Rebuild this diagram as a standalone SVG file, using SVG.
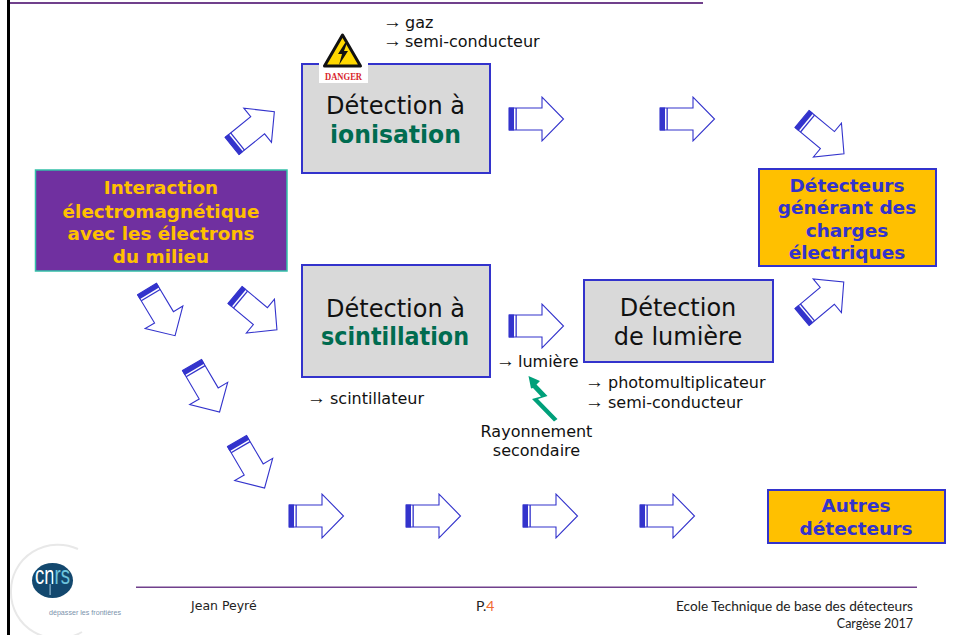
<svg xmlns="http://www.w3.org/2000/svg" width="957" height="635" viewBox="0 0 957 635">
<style>
text{font-family:"DejaVu Sans",Verdana,sans-serif}
.box{stroke:#3333CC;stroke-width:2}
.grey{fill:#D9D9D9}
.or{fill:#FFC000}
.big{font-size:24px;fill:#111;text-anchor:middle}
.bigb{font-size:24px;font-weight:bold;fill:#006C50;text-anchor:middle}
.t{font-size:16px;fill:#111}
.a{font-family:"Liberation Sans",sans-serif;font-size:19px}
.c{font-size:16px;fill:#111;text-anchor:middle}
.bl{font-size:18.5px;font-weight:bold;fill:#3333CC;text-anchor:middle}
.yl{font-size:18.4px;font-weight:bold;fill:#FFC000;text-anchor:middle}
.f{font-size:12.5px;fill:#222}
.l{font-family:Lato,"Liberation Sans",sans-serif;font-size:12.500px;fill:#222}
.arr{fill:#fff;stroke:#3333CC;stroke-width:1.1}
.bar{fill:#3333CC}
</style>
<defs>
<g id="arrow">
<polygon class="arr" points="0,-11 33,-11 33,-22 54.500,0 33,22 33,11 0,11"/>
<rect class="bar" x="0" y="-11.500" width="5" height="23"/>
<rect class="bar" x="6.500" y="-11" width="1.300" height="22"/>
</g>
<linearGradient id="cnrsfill" x1="0" y1="0" x2="1" y2="0">
<stop offset="0.52" stop-color="#fff"/>
<stop offset="0.52" stop-color="#6EC4DC"/>
</linearGradient>
</defs>
<rect x="0" y="0" width="957" height="635" fill="#fff"/>
<rect x="7" y="0" width="3" height="635" fill="#000"/>
<rect x="10" y="2" width="693" height="2" fill="#70408C"/>
<rect x="136" y="586.500" width="781" height="1.500" fill="#70408C"/>

<g id="connectors">
<use href="#arrow" transform="translate(509 119)"/>
<use href="#arrow" transform="translate(660 119)"/>
<use href="#arrow" transform="translate(509 326)"/>
<use href="#arrow" transform="translate(289 516)"/>
<use href="#arrow" transform="translate(406 516)"/>
<use href="#arrow" transform="translate(523 516)"/>
<use href="#arrow" transform="translate(640 516)"/>
<use href="#arrow" transform="translate(232 146) rotate(-39)"/>
<use href="#arrow" transform="translate(802 119) rotate(39.600)"/>
<use href="#arrow" transform="translate(802 317) rotate(-40)"/>
<use href="#arrow" transform="translate(147 289) rotate(59)"/>
<use href="#arrow" transform="translate(235 295) rotate(39.700)"/>
<use href="#arrow" transform="translate(192 365) rotate(59.600)"/>
<use href="#arrow" transform="translate(237 441) rotate(59.600)"/>
<polygon id="bolt" fill="#00A07A" points="528.500,376 540,381 536.500,384.500 547.500,396 538,399 557.500,419 554,421.500 532,399 541,396.500 533,388 531,388.500"/>
</g>

<g id="node-interaction">
<rect x="35.500" y="170" width="251.500" height="101" fill="#7030A0" stroke="#33C0A8" stroke-width="1.500"/>
<text class="yl" x="161" y="194">Interaction</text>
<text class="yl" x="161" y="218">électromagnétique</text>
<text class="yl" x="161" y="240">avec les électrons</text>
<text class="yl" x="161" y="263">du milieu</text>
</g>

<g id="node-ionisation">
<rect class="box grey" x="302" y="64" width="188" height="109"/>
<text class="big" x="395.500" y="114">Détection à</text>
<text class="bigb" x="395.500" y="143" textLength="131" lengthAdjust="spacingAndGlyphs">ionisation</text>
</g>

<g id="danger">
<rect x="319" y="31" width="49" height="52" fill="#fff"/>
<path d="M342.500 35 L360.500 66 L324.500 66 Z" fill="#FFD800" stroke="#111" stroke-width="3" stroke-linejoin="round"/>
<path d="M345 43 L338 54 L342 54 L339 65 L348 51 L344 51 L347 43 Z" fill="#111"/>
<text x="343.500" y="80" font-size="10.500" font-weight="bold" text-anchor="middle" textLength="37" lengthAdjust="spacingAndGlyphs" fill="#D8242C" style="font-family:'Liberation Serif',serif">DANGER</text>
</g>

<g id="note-ionisation">
<text class="t" x="383" y="28"><tspan class="a">→</tspan><tspan x="405">gaz</tspan></text>
<text class="t" x="383" y="47"><tspan class="a">→</tspan><tspan x="405">semi-conducteur</tspan></text>
</g>

<g id="node-scintillation">
<rect class="box grey" x="302" y="265" width="188" height="112"/>
<text class="big" x="395.500" y="317">Détection à</text>
<text class="bigb" x="395" y="345" textLength="148" lengthAdjust="spacingAndGlyphs">scintillation</text>
</g>
<text id="note-scintillateur" class="t" x="307" y="404"><tspan class="a">→</tspan><tspan x="330">scintillateur</tspan></text>

<g id="node-lumiere">
<rect class="box grey" x="584" y="280" width="189" height="82"/>
<text class="big" x="678" y="316">Détection</text>
<text class="big" x="678" y="345">de lumière</text>
</g>
<text id="note-lumiere" class="t" x="496" y="367"><tspan class="a">→</tspan><tspan x="518">lumière</tspan></text>
<g id="note-photo">
<text class="t" x="585" y="388"><tspan class="a">→</tspan><tspan x="608">photomultiplicateur</tspan></text>
<text class="t" x="585" y="408"><tspan class="a">→</tspan><tspan x="608">semi-conducteur</tspan></text>
</g>
<g id="note-rayonnement">
<text class="c" x="536.500" y="437">Rayonnement</text>
<text class="c" x="536.500" y="456">secondaire</text>
</g>

<g id="node-charges">
<rect class="box or" x="759" y="169" width="177" height="97"/>
<text class="bl" x="847" y="192">Détecteurs</text>
<text class="bl" x="847" y="214">générant des</text>
<text class="bl" x="847" y="237">charges</text>
<text class="bl" x="847" y="259">électriques</text>
</g>

<g id="node-autres">
<rect class="box or" x="768" y="490" width="177" height="53"/>
<text class="bl" x="856" y="512">Autres</text>
<text class="bl" x="856" y="535">détecteurs</text>
</g>

<g id="logo">
<path d="M78 549 A47 46 0 0 0 11 591 A47 46 0 0 0 82 632" fill="none" stroke="#E8E8E8" stroke-width="2"/>
<ellipse cx="52.500" cy="580.500" rx="20.500" ry="17.500" fill="#13486E"/>
<rect x="49.500" y="584" width="1.200" height="11" fill="#8FB8D0"/>
<text x="35" y="584" font-size="25" fill="url(#cnrsfill)" textLength="35" lengthAdjust="spacingAndGlyphs" style="font-family:'Liberation Sans',sans-serif">cnrs</text>
<text x="49" y="615" font-size="7.500" textLength="72" lengthAdjust="spacingAndGlyphs" fill="#7C93AC" style="font-family:'Liberation Sans',sans-serif">dépasser les frontières</text>
</g>

<g id="footer">
<text class="f" x="191" y="610">Jean Peyré</text>
<text class="l" x="476" y="611" style="font-size:14px">P.<tspan fill="#F0682C">4</tspan></text>
<text class="l" x="913" y="611" text-anchor="end" textLength="237" lengthAdjust="spacingAndGlyphs">Ecole Technique de base des détecteurs</text>
<text class="l" x="913" y="628" text-anchor="end">Cargèse 2017</text>
</g>
</svg>
